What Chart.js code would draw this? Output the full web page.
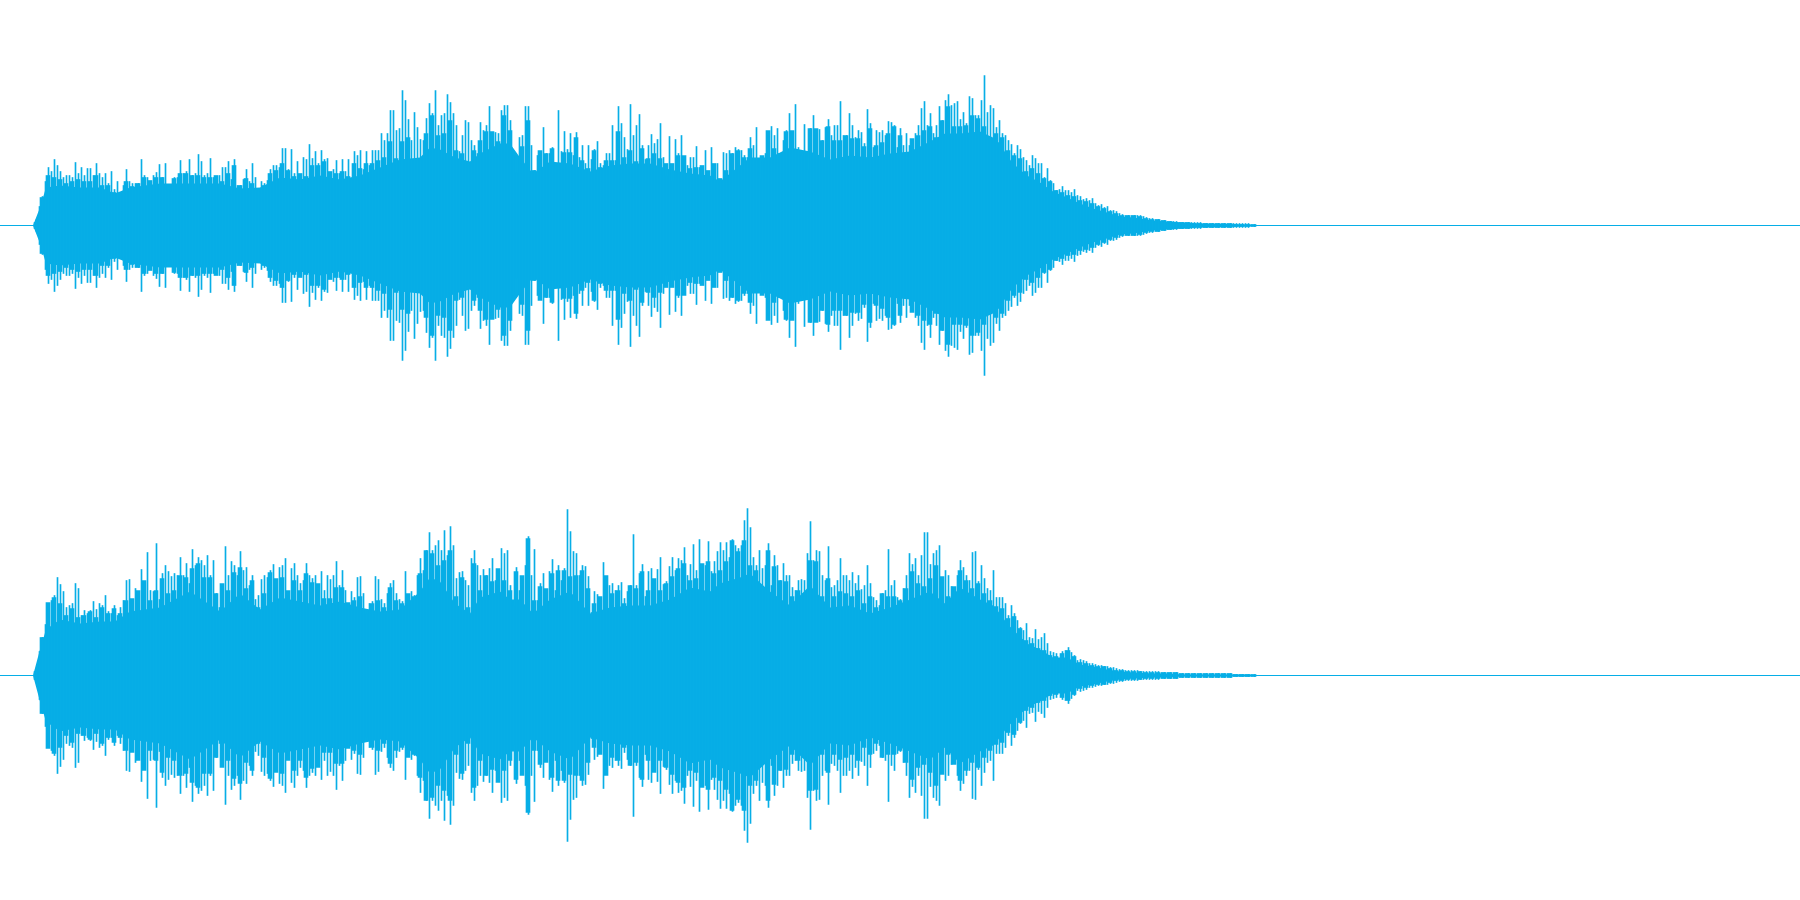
<!DOCTYPE html>
<html>
<head>
<meta charset="utf-8">
<title>Waveform</title>
<script src="https://cdn.jsdelivr.net/npm/chart.js@4/dist/chart.umd.js"></script>
<style>
    html, body { margin: 0; padding: 0; background: #fff; }
    canvas { display: block; }
</style>
</head>
<body>
<canvas id="channel1" width="1800" height="450"></canvas>
<canvas id="channel2" width="1800" height="450"></canvas>
<script>
// Peak level per column, 20 columns a line
const channel1Peaks = [
    0,6,19,29,44,58,54,66,60,54,48,50,50,48,63,52,58,50,57,57,
    50,62,52,48,52,42,54,36,44,32,40,56,44,42,42,42,66,50,48,44,
    50,53,61,48,62,36,34,48,48,65,52,54,66,50,52,71,64,50,52,67,
    48,46,50,58,58,64,46,66,40,40,46,56,44,62,48,36,44,42,45,56,
    60,60,58,77,77,56,76,52,64,50,68,66,81,67,74,62,75,66,67,50,
    56,65,52,66,54,66,46,74,70,75,56,74,60,75,75,75,92,85,92,115,
    115,95,97,135,125,106,85,113,98,86,85,107,122,112,135,100,110,112,131,123,
    112,100,74,90,105,103,85,80,72,103,95,100,119,82,93,92,115,120,120,105,
    70,53,88,90,119,119,80,55,70,72,98,72,72,78,62,115,74,94,76,92,
    70,93,68,80,62,80,66,76,84,62,60,72,72,100,65,119,102,88,76,121,
    90,100,111,80,66,80,91,82,86,102,68,50,89,45,86,72,90,68,60,68,
    68,79,58,52,75,45,78,55,62,45,73,72,75,72,78,76,75,70,68,88,
    80,98,47,65,72,90,99,90,97,72,85,95,112,85,121,78,70,101,56,97,
    110,92,96,85,98,106,90,100,100,124,90,90,112,100,88,95,93,82,116,102,
    78,95,93,95,90,104,103,100,78,97,80,92,80,85,92,100,117,124,100,112,
    92,100,119,105,125,131,120,122,124,106,113,102,129,127,110,110,125,150,113,120,
    117,98,105,92,90,85,81,72,80,76,68,65,60,70,67,62,62,48,57,45,
    42,35,36,39,35,35,33,36,30,29,26,27,25,27,22,20,21,18,19,15,
    15,14,12,11,10,10,10,10,10,10,9,8,7,7,6,6,5,5,4,4,
    4,4,3,3,3,3,3,3,3,3,2,2,2,2,2,2,2,2,2,2,
    2,2,2,2,2,2,1,1
];
const channel2Peaks = [
    0,6,24,38,51,72,75,80,98,91,84,68,70,72,92,87,60,65,62,65,
    74,66,72,70,80,64,62,70,60,68,75,95,96,76,87,80,106,92,123,85,
    84,132,76,102,110,104,99,102,100,118,100,112,92,126,110,118,115,110,120,100,
    115,82,68,90,129,100,114,110,100,124,105,108,90,100,76,80,96,100,98,105,
    111,88,108,110,117,80,107,112,100,92,95,112,100,97,100,75,104,85,100,96,
    100,114,90,105,85,72,84,78,98,99,82,62,72,74,99,96,76,72,82,92,
    95,82,76,74,104,78,84,80,100,117,105,125,143,125,130,135,125,145,120,149,
    130,97,103,104,95,90,117,125,110,100,106,100,107,117,95,90,127,122,125,90,
    70,108,85,90,110,139,100,126,75,92,102,85,104,116,85,110,95,107,166,144,
    124,122,100,110,109,99,63,84,81,78,113,90,90,92,85,90,93,77,84,90,
    141,90,102,111,79,104,107,75,106,118,91,94,109,118,105,117,115,128,100,111,
    131,105,136,100,110,134,104,114,124,133,125,133,118,136,130,127,130,155,167,148,
    118,110,125,107,110,132,90,120,110,95,112,100,100,88,85,95,96,95,122,154,
    115,125,124,100,95,129,88,90,95,117,100,100,95,103,92,100,86,90,110,92,
    78,75,70,82,85,126,90,95,78,76,87,100,122,111,117,100,120,143,143,111,
    122,125,130,80,105,100,89,88,100,115,108,100,95,123,124,94,110,97,87,85,
    105,78,78,78,72,60,70,62,55,48,45,52,38,37,46,36,38,42,32,24,
    23,22,17,24,25,28,23,20,15,16,15,14,12,12,11,10,10,9,9,8,
    8,7,6,6,5,5,5,5,5,4,4,4,4,4,4,4,3,3,3,3,
    3,3,2,2,2,2,2,2,2,2,2,2,2,2,2,2,2,2,2,2,
    1,1,1,1,1,1,1,1
];

// Level of the wider blocks between the thin peaks, 10 blocks a line
const channel1Blocks = [
    3,28,50,48,46,42,44,46,44,44,
    50,40,40,33,32,44,39,42,48,45,
    48,48,40,47,52,52,50,50,48,48,
    50,44,52,60,40,47,42,37,40,52,
    55,62,55,49,52,49,60,60,64,54,
    52,54,49,62,57,62,62,65,68,84,
    67,84,88,65,65,92,110,90,92,105,
    75,72,55,75,85,94,94,84,110,95,
    52,79,105,55,75,72,77,62,73,73,
    88,65,57,75,58,65,65,94,68,75,
    64,77,67,72,67,62,62,70,70,57,
    58,60,55,62,47,55,72,75,68,77,
    67,70,95,77,72,94,95,72,72,97,
    97,85,99,85,85,90,87,87,79,97,
    80,83,92,99,90,72,87,90,95,99,
    88,105,119,99,99,100,110,107,99,87,
    92,88,75,70,67,54,57,52,47,44,
    35,33,30,29,25,24,22,19,17,14,
    12,10,10,10,9,7,6,6,5,4,
    3,3,3,2,2,2,2,2,2,2,
    1,1,1,1
];
const channel2Blocks = [
    4,38,73,78,72,60,67,58,60,64,
    58,68,62,67,62,75,77,85,95,75,
    85,97,82,85,100,98,107,112,98,98,
    82,92,85,103,108,87,95,68,82,103,
    97,98,85,95,85,102,93,92,77,77,
    88,88,73,75,79,57,72,75,68,88,
    75,72,82,79,102,125,122,110,115,125,
    79,98,68,112,85,100,94,107,95,85,
    104,100,137,75,89,87,102,105,105,99,
    100,105,87,72,79,100,82,85,72,90,
    87,104,85,97,85,92,99,107,112,95,
    97,112,114,102,105,114,135,124,135,110,
    105,87,125,109,95,94,79,85,82,115,
    114,79,97,79,84,82,79,85,72,79,
    68,82,79,79,75,87,104,92,89,97,
    110,99,79,89,105,95,87,92,82,75,
    69,67,57,59,47,35,32,27,25,20,
    19,22,25,19,13,12,10,9,9,7,
    5,5,4,4,4,3,3,3,3,3,
    3,2,2,2,2,2,2,2,2,2,
    1,1,1,1
];

// Solid part of each channel, sampled more coarsely
const bodyTimes = [
    33,40,46,60,80,100,115,130,160,190,220,240,260,280,300,320,340,360,380,400,
    420,430,440,455,470,480,500,510,520,533,550,570,590,610,630,650,670,690,710,720,
    740,750,770,790,810,830,850,870,890,910,930,945,960,980,993,1000,1007,1013,1027,1040,
    1053,1067,1080,1093,1107,1120,1133,1153,1167,1183,1200,1250,1255
];
const channel1Body = [
    0,18,38,40,38,38,32,38,42,42,42,37,38,48,46,50,46,50,58,66,
    68,78,76,68,64,72,82,82,68,52,64,62,54,60,62,62,56,52,50,44,
    60,68,68,78,74,66,70,68,72,74,84,92,92,94,88,82,70,62,50,43,
    34,28,22,17,13,9,8,5,4,3,2,1,0
];
const channel2Body = [
    0,26,46,56,52,54,54,64,68,84,64,82,66,78,74,70,74,68,64,66,
    84,98,94,72,62,78,84,76,76,62,76,84,62,68,70,70,76,88,84,92,
    98,102,84,70,90,68,70,62,68,76,84,72,88,76,70,62,52,46,32,26,
    18,18,11,9,6,4,3,2,2,1,1,1,0
];

const firstColumn = 33.5;
const columnStep = 3;
const firstBlock = 36;
const blockStep = 6;
const waveColor = '#07aee6';

function renderChannel(canvasId, peaks, blocks, body) {
    const ctx = document.getElementById(canvasId).getContext('2d');
    new Chart(ctx, {
        data: {
            datasets: [
                {
                    type: 'bar',
                    data: peaks.map((v, i) => ({ x: firstColumn + i * columnStep, y: [-v, v] })),
                    backgroundColor: waveColor,
                    borderWidth: 0,
                    barThickness: 1,
                    grouped: false
                },
                {
                    type: 'bar',
                    data: blocks.map((v, i) => ({ x: firstBlock + i * blockStep, y: [-v, v] })),
                    backgroundColor: waveColor,
                    borderWidth: 0,
                    barThickness: 4,
                    grouped: false
                },
                {
                    type: 'line',
                    data: bodyTimes.map((t, i) => ({ x: t, y: body[i] })),
                    borderWidth: 0,
                    backgroundColor: waveColor,
                    pointRadius: 0,
                    fill: 'origin'
                },
                {
                    type: 'line',
                    data: bodyTimes.map((t, i) => ({ x: t, y: -body[i] })),
                    borderWidth: 0,
                    backgroundColor: waveColor,
                    pointRadius: 0,
                    fill: 'origin'
                },
                {
                    // silent baseline runs the whole width
                    type: 'line',
                    data: [{ x: 0, y: 0 }, { x: 1800, y: 0 }],
                    borderColor: waveColor,
                    borderWidth: 1,
                    pointRadius: 0,
                    fill: false
                }
            ]
        },
        options: {
            responsive: false,
            animation: false,
            layout: { padding: 0 },
            plugins: {
                legend: { display: false },
                tooltip: { enabled: false }
            },
            scales: {
                x: { type: 'linear', display: false, offset: false, min: 0, max: 1800 },
                y: { type: 'linear', display: false, min: -224.5, max: 225.5 }
            }
        }
    });
}

renderChannel('channel1', channel1Peaks, channel1Blocks, channel1Body);
renderChannel('channel2', channel2Peaks, channel2Blocks, channel2Body);
</script>
</body>
</html>
